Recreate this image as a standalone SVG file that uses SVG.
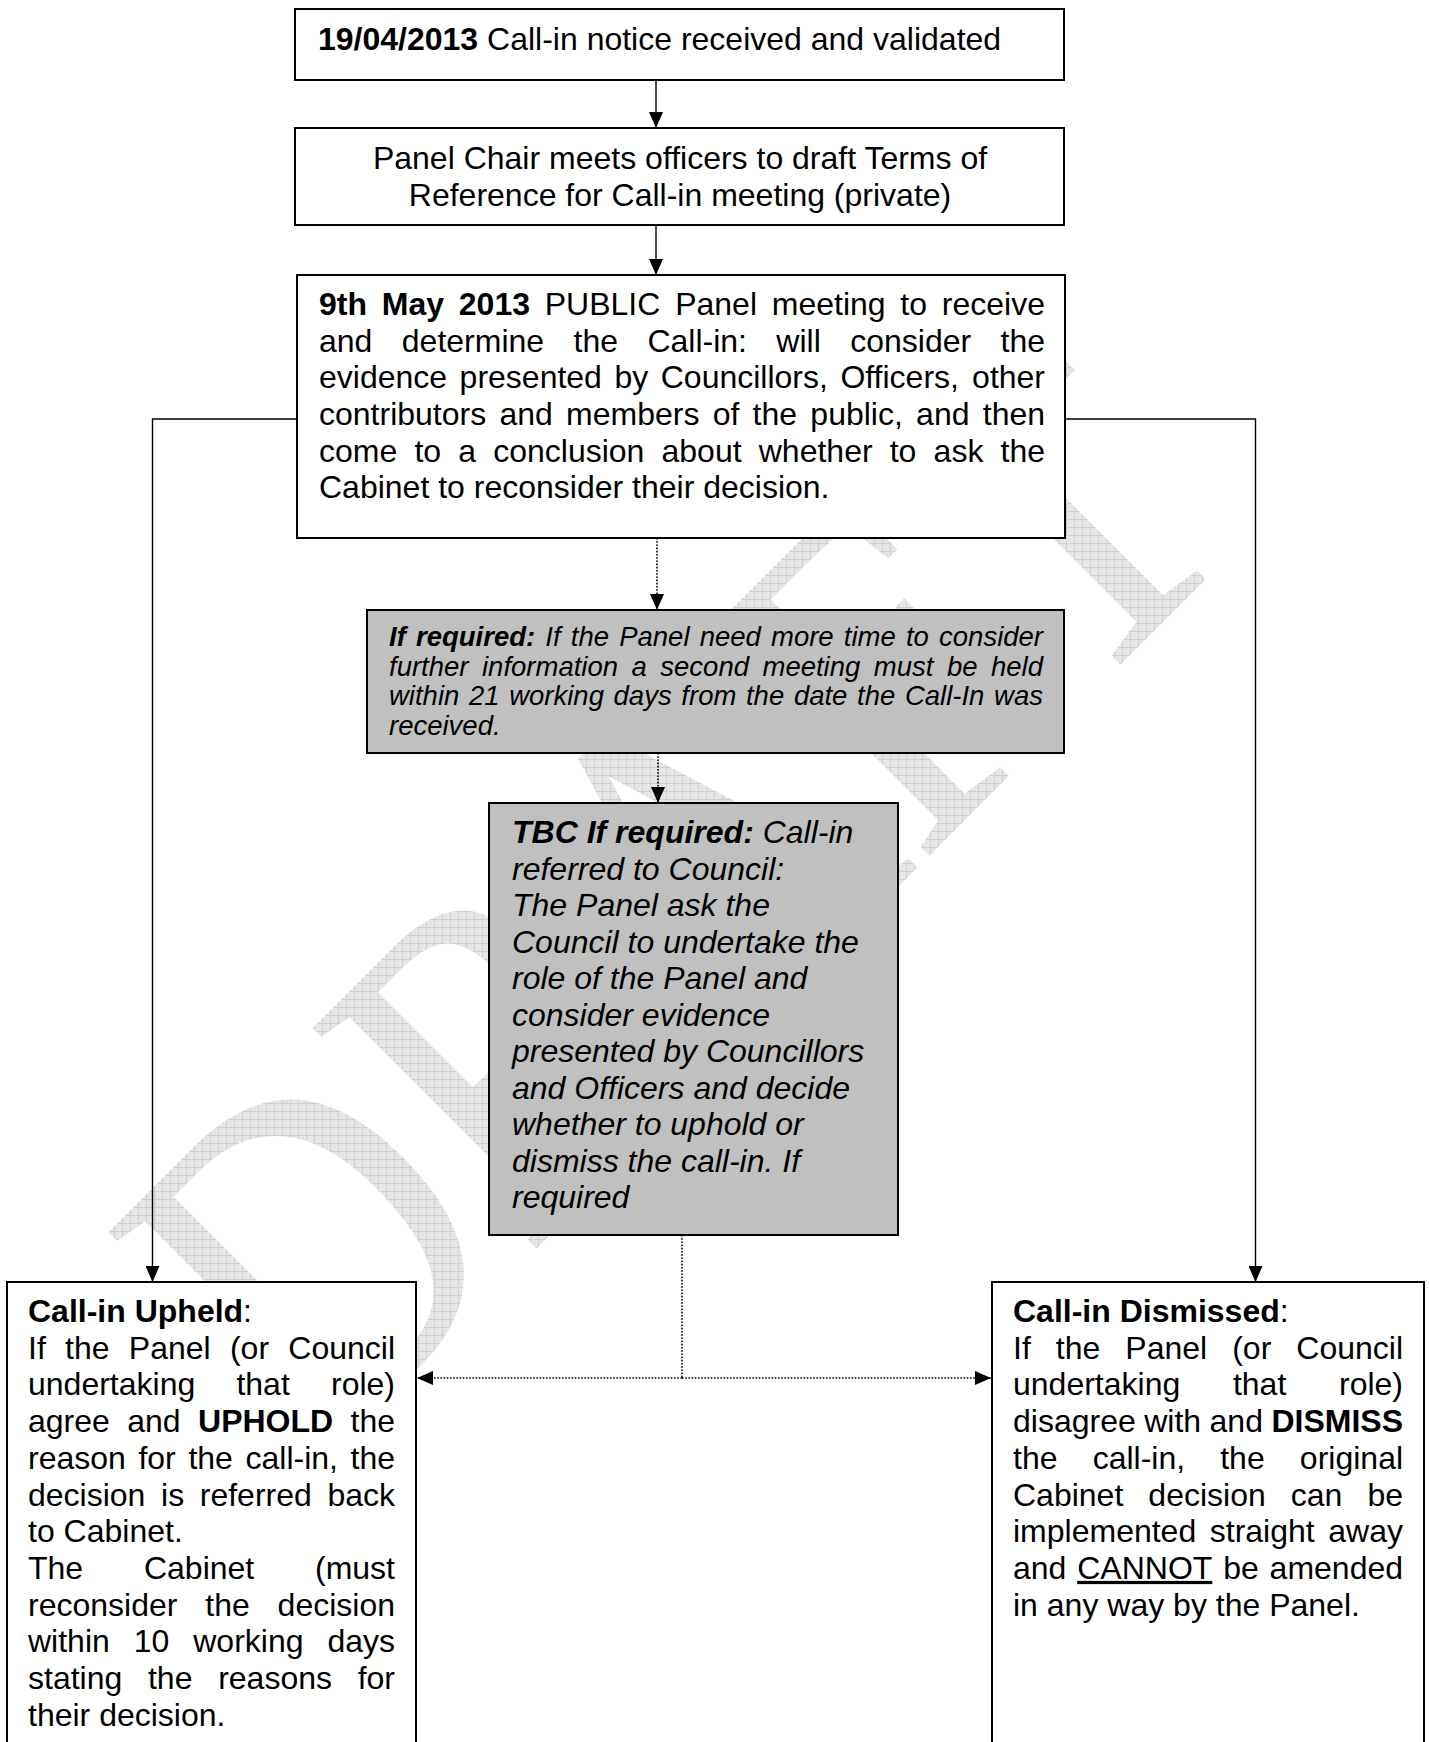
<svg xmlns="http://www.w3.org/2000/svg" width="1429" height="1742" viewBox="0 0 1429 1742">
<style>
.t{font-family:"Liberation Sans",Arial,Helvetica,sans-serif;font-size:32px;fill:#000}
.i{font-style:italic}
.s{font-size:27.5px}
.b{font-weight:bold}
.u{text-decoration:underline}
.box{fill:#fff;stroke:#000;stroke-width:2}
.grey{fill:#c0c0c0;stroke:#000;stroke-width:2}
.ln{fill:none;stroke:#000;stroke-width:1.4}
.dot{fill:none;stroke:#000;stroke-width:1.6;stroke-dasharray:1.6 1.6}
.wm{font-family:"Liberation Serif","Times New Roman",serif;font-size:400px;fill:url(#hatch)}
</style>
<defs>
<pattern id="hatch" width="8" height="8" patternUnits="userSpaceOnUse" patternTransform="scale(1,0.8333) rotate(45)">
<rect width="8" height="8" fill="#e6e6e6"/>
<path d="M0,0.5H8M0.5,0V8" stroke="#cfcfcf" stroke-width="1"/>
</pattern>
<marker id="arr" viewBox="0 0 16 14" refX="16" refY="7" markerWidth="16" markerHeight="14" markerUnits="userSpaceOnUse" orient="auto">
<path d="M0,0L16,7L0,14z" fill="#000"/>
</marker>
</defs>
<rect width="1429" height="1742" fill="#fff"/>
<g id="watermark">
<text class="wm" transform="translate(786,999) rotate(-45) scale(1,1.2)" x="0" y="0" text-anchor="middle">DRAFT</text>
</g>
<g id="connectors">
<path class="ln" d="M656,80V128" marker-end="url(#arr)"/>
<path class="ln" d="M656,225V275" marker-end="url(#arr)"/>
<path class="ln" d="M297,419H152.5V1282" marker-end="url(#arr)"/>
<path class="ln" d="M1065,419H1255.5V1282" marker-end="url(#arr)"/>
<path class="dot" d="M657,538V610" marker-end="url(#arr)"/>
<path class="dot" d="M658,753V803" marker-end="url(#arr)"/>
<path class="dot" d="M682,1235V1378"/>
<path class="dot" d="M682,1378H417" marker-end="url(#arr)"/>
<path class="dot" d="M682,1378H991" marker-end="url(#arr)"/>
</g>
<g id="n1">
<rect class="box" x="295" y="9" width="769" height="71"/>
<text class="t" x="318" y="50"><tspan class="b">19/04/2013</tspan> Call-in notice received and validated</text>
</g>
<g id="n2">
<rect class="box" x="295" y="128" width="769" height="97"/>
<text class="t" x="680" y="169" text-anchor="middle">Panel Chair meets officers to draft Terms of</text>
<text class="t" x="680" y="206" text-anchor="middle">Reference for Call-in meeting (private)</text>
</g>
<g id="n3">
<rect class="box" x="297" y="275" width="768" height="263"/>
<text class="t" y="315"><tspan class="b" x="319">9th</tspan><tspan class="b" x="381.79">May</tspan><tspan class="b" x="458.82">2013</tspan><tspan x="544.78">PUBLIC</tspan><tspan x="675.15">Panel</tspan><tspan x="771.76">meeting</tspan><tspan x="900.37">to</tspan><tspan x="941.85">receive</tspan></text>
<text class="t" y="351.7"><tspan x="319">and</tspan><tspan x="401.8">determine</tspan><tspan x="573.49">the</tspan><tspan x="647.39">Call-in:</tspan><tspan x="776.36">will</tspan><tspan x="850.2">consider</tspan><tspan x="1000.55">the</tspan></text>
<text class="t" y="388.3"><tspan x="319">evidence</tspan><tspan x="459.59">presented</tspan><tspan x="614.42">by</tspan><tspan x="660.74">Councillors,</tspan><tspan x="840.41">Officers,</tspan><tspan x="972.08">other</tspan></text>
<text class="t" y="425"><tspan x="319">contributors</tspan><tspan x="499.43">and</tspan><tspan x="566.07">members</tspan><tspan x="712.67">of</tspan><tspan x="752.62">the</tspan><tspan x="810.36">public,</tspan><tspan x="916.1">and</tspan><tspan x="982.74">then</tspan></text>
<text class="t" y="461.7"><tspan x="319">come</tspan><tspan x="414.4">to</tspan><tspan x="458.25">a</tspan><tspan x="493.2">conclusion</tspan><tspan x="661.53">about</tspan><tspan x="758.75">whether</tspan><tspan x="889.73">to</tspan><tspan x="933.58">ask</tspan><tspan x="1000.53">the</tspan></text>
<text class="t" x="319" y="498.3">Cabinet to reconsider their decision.</text>
</g>
<g id="n4">
<rect class="grey" x="367" y="610" width="697" height="143"/>
<text class="t i s" y="646"><tspan class="b" x="389">If</tspan><tspan class="b" x="415.97">required:</tspan><tspan x="545.33">If</tspan><tspan x="570.79">the</tspan><tspan x="619.19">Panel</tspan><tspan x="699.68">need</tspan><tspan x="771.01">more</tspan><tspan x="843.83">time</tspan><tspan x="905.95">to</tspan><tspan x="939.06">consider</tspan></text>
<text class="t i s" y="675.5"><tspan x="389">further</tspan><tspan x="481.99">information</tspan><tspan x="631.52">a</tspan><tspan x="660.32">second</tspan><tspan x="762.49">meeting</tspan><tspan x="873.82">must</tspan><tspan x="946.92">be</tspan><tspan x="991.01">held</tspan></text>
<text class="t i s" y="705"><tspan x="389">within</tspan><tspan x="468.95">21</tspan><tspan x="509.19">working</tspan><tspan x="613.59">days</tspan><tspan x="681.33">from</tspan><tspan x="745.99">the</tspan><tspan x="793.88">date</tspan><tspan x="857.06">the</tspan><tspan x="904.95">Call-In</tspan><tspan x="994.06">was</tspan></text>
<text class="t i s" x="389" y="734.5">received.</text>
</g>
<g id="n5">
<rect class="grey" x="489" y="803" width="409" height="432"/>
<text class="t i" x="512" y="843"><tspan class="b">TBC If required:</tspan> Call-in</text>
<text class="t i" x="512" y="879.5">referred to Council:</text>
<text class="t i" x="512" y="916">The Panel ask the</text>
<text class="t i" x="512" y="952.5">Council to undertake the</text>
<text class="t i" x="512" y="989">role of the Panel and</text>
<text class="t i" x="512" y="1025.5">consider evidence</text>
<text class="t i" x="512" y="1062">presented by Councillors</text>
<text class="t i" x="512" y="1098.5">and Officers and decide</text>
<text class="t i" x="512" y="1135">whether to uphold or</text>
<text class="t i" x="512" y="1171.5">dismiss the call-in. If</text>
<text class="t i" x="512" y="1208">required</text>
</g>
<g id="n6">
<rect class="box" x="7" y="1282" width="409" height="480"/>
<text class="t" x="28" y="1322"><tspan class="b">Call-in Upheld</tspan>:</text>
<text class="t" y="1358.7"><tspan x="28">If</tspan><tspan x="65.07">the</tspan><tspan x="128.83">Panel</tspan><tspan x="229.93">(or</tspan><tspan x="288.31">Council</tspan></text>
<text class="t" y="1395.4"><tspan x="28">undertaking</tspan><tspan x="236.41">that</tspan><tspan x="331">role)</tspan></text>
<text class="t" y="1432.1"><tspan x="28">agree</tspan><tspan x="127.23">and</tspan><tspan class="b" x="198.02">UPHOLD</tspan><tspan x="350.53">the</tspan></text>
<text class="t" y="1468.8"><tspan x="28">reason</tspan><tspan x="138.43">for</tspan><tspan x="188.38">the</tspan><tspan x="245.47">call-in,</tspan><tspan x="350.53">the</tspan></text>
<text class="t" y="1505.5"><tspan x="28">decision</tspan><tspan x="161.02">is</tspan><tspan x="199.76">referred</tspan><tspan x="327.43">back</tspan></text>
<text class="t" x="28" y="1542.2">to Cabinet.</text>
<text class="t" y="1578.9"><tspan x="28">The</tspan><tspan x="143.94">Cabinet</tspan><tspan x="315.01">(must</tspan></text>
<text class="t" y="1615.6"><tspan x="28">reconsider</tspan><tspan x="205.26">the</tspan><tspan x="277.62">decision</tspan></text>
<text class="t" y="1652.3"><tspan x="28">within</tspan><tspan x="133.73">10</tspan><tspan x="193.25">working</tspan><tspan x="327.43">days</tspan></text>
<text class="t" y="1689"><tspan x="28">stating</tspan><tspan x="147.97">the</tspan><tspan x="218.15">reasons</tspan><tspan x="357.67">for</tspan></text>
<text class="t" x="28" y="1725.7">their decision.</text>
</g>
<g id="n7">
<rect class="box" x="992" y="1282" width="432" height="480"/>
<text class="t" x="1013" y="1322"><tspan class="b">Call-in Dismissed</tspan>:</text>
<text class="t" y="1358.7"><tspan x="1013">If</tspan><tspan x="1055.82">the</tspan><tspan x="1125.33">Panel</tspan><tspan x="1232.18">(or</tspan><tspan x="1296.31">Council</tspan></text>
<text class="t" y="1395.4"><tspan x="1013">undertaking</tspan><tspan x="1232.91">that</tspan><tspan x="1339">role)</tspan></text>
<text class="t" y="1432.1"><tspan x="1013">disagree</tspan><tspan x="1144.19">with</tspan><tspan x="1209.56">and</tspan><tspan class="b" x="1271.41">DISMISS</tspan></text>
<text class="t" y="1468.8"><tspan x="1013">the</tspan><tspan x="1092.63">call-in,</tspan><tspan x="1220.23">the</tspan><tspan x="1299.86">original</tspan></text>
<text class="t" y="1505.5"><tspan x="1013">Cabinet</tspan><tspan x="1148.33">decision</tspan><tspan x="1290.77">can</tspan><tspan x="1367.41">be</tspan></text>
<text class="t" y="1542.2"><tspan x="1013">implemented</tspan><tspan x="1209.77">straight</tspan><tspan x="1328.3">away</tspan></text>
<text class="t" y="1578.9"><tspan x="1013">and</tspan><tspan class="u" x="1077.22">CANNOT</tspan><tspan x="1223.16">be</tspan><tspan x="1269.58">amended</tspan></text>
<text class="t" x="1013" y="1615.6">in any way by the Panel.</text>
</g>
</svg>
